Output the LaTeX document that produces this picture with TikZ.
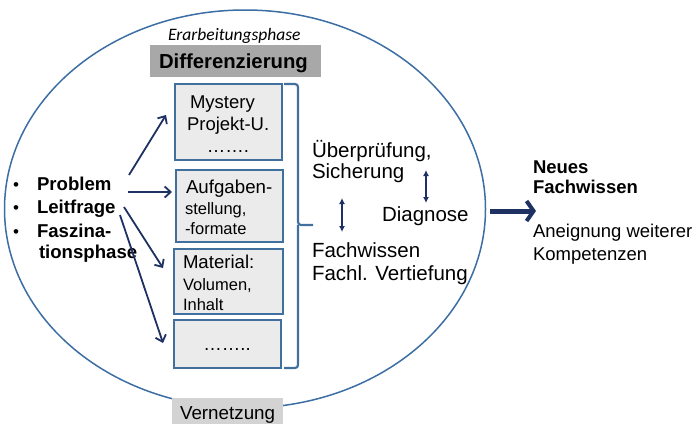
\documentclass[tikz,border=0pt]{standalone}
\usepackage{fontspec}
\setmainfont{Liberation Sans}
\newfontfamily\carlfont{Carlito}
\usetikzlibrary{arrows.meta,shapes.geometric}
\definecolor{ellblue}{HTML}{3C6EA4}
\definecolor{boxblue}{HTML}{41709F}
\definecolor{boxfill}{HTML}{EBEBEB}
\definecolor{navy}{HTML}{1F3162}
\definecolor{diffgray}{HTML}{A8A8A8}
\definecolor{vergray}{HTML}{D3D3D3}
\newcommand\fsz[1]{\fontsize{#1}{#1}\selectfont}
\begin{document}
\begin{tikzpicture}[x=1pt,y=-1pt,
  txt/.style={anchor=base west,inner sep=0pt,outer sep=0pt},
  ctxt/.style={anchor=base,inner sep=0pt,outer sep=0pt},
  stepbox/.style={draw=boxblue,line width=2pt,fill=boxfill,inner sep=0pt},
  arr/.style={navy,line width=1.8pt,-{Straight Barb[length=6pt,width=11pt,line width=1.8pt]}},
  darr/.style={navy,line width=1.5pt,{Latex[length=6pt,width=6pt]}-{Latex[length=6pt,width=6pt]}},
  bigarr/.style={navy,line width=5pt,-{Straight Barb[length=7pt,width=20pt,line width=4pt]}}]
\useasboundingbox (0,0) rectangle (695,423);
% ellipse
\node[draw=ellblue,line width=1.5pt,ellipse,minimum width=481pt,minimum height=398pt,inner sep=0pt] (ell) at (245,209) {};
% header
\node[txt] (erar) at (168,40) {\carlfont\itshape\fsz{17.5}Erarbeitungsphase};
\node[fill=diffgray,minimum width=171pt,minimum height=32pt,inner sep=0pt] (diffbox) at (235.5,61) {};
\node[txt] (diff) at (159,68) {\bfseries\fsz{20.3}Differenzierung};
% boxes
\node[stepbox,minimum width=107pt,minimum height=76pt] (b1) at (228.5,122) {};
\node[stepbox,minimum width=107pt,minimum height=72pt] (b2) at (229.5,206) {};
\node[stepbox,minimum width=109pt,minimum height=65pt] (b3) at (228.5,281.5) {};
\node[stepbox,minimum width=107pt,minimum height=48pt] (b4) at (227.5,344) {};
\node[txt] (t1a) at (190,108) {\fsz{18.5}Mystery};
\node[txt] (t1b) at (187,130) {\fsz{18.5}Projekt-U.};
\node[ctxt] (t1c) at (228,152) {\fsz{18.5}…….};
\node[txt] (t2a) at (186,193) {\fsz{18.7}Aufgaben-};
\node[txt] (t2b) at (185,214) {\fsz{16.5}stellung,};
\node[txt] (t2c) at (185,234) {\fsz{16.5}-formate};
\node[txt] (t3a) at (183,268) {\fsz{18.6}Material:};
\node[txt] (t3b) at (183,290) {\fsz{16.5}Volumen,};
\node[txt] (t3c) at (183,310) {\fsz{16.5}Inhalt};
\node[ctxt] (t4) at (227,350) {\fsz{18.5}……..};
% bracket
\coordinate (brt) at (284,84);
\coordinate (brb) at (284,368);
\coordinate (brtip) at (313,225);
\draw[boxblue,line width=2.2pt,rounded corners=3pt] (brt) -- (298,84) -- (298,225) -- (brtip);
\draw[boxblue,line width=2.2pt,rounded corners=3pt] (brb) -- (298,368) -- (298,225);
% left bullets
\node[txt] (bu1) at (13,190) {\fsz{17}•};
\node[txt] (bu2) at (13,213) {\fsz{17}•};
\node[txt] (bu3) at (13,237) {\fsz{17}•};
\node[txt] (l1) at (37,190) {\bfseries\fsz{18.6}Problem};
\node[txt] (l2) at (37,213) {\bfseries\fsz{18.6}Leitfrage};
\node[txt] (l3) at (37,237) {\bfseries\fsz{18.6}Faszina-};
\node[txt] (l4) at (39,258) {\bfseries\fsz{18.6}tionsphase};
% arrows
\coordinate (a1s) at (129,175); \coordinate (a1e) at (166,115);
\coordinate (a2s) at (128,192); \coordinate (a2e) at (172,192);
\coordinate (a3s) at (124,207); \coordinate (a3e) at (163,268);
\coordinate (a4s) at (120,215); \coordinate (a4e) at (163,343);
\draw[arr] (a1s) -- (a1e);
\draw[arr] (a2s) -- (a2e);
\draw[arr] (a3s) -- (a3e);
\draw[arr] (a4s) -- (a4e);
% right texts
\node[txt] (r1) at (312,157) {\fsz{20.5}Überprüfung,};
\node[txt] (r2) at (312,178) {\fsz{20.5}Sicherung};
\node[txt] (r3) at (382,221) {\fsz{20.5}Diagnose};
\node[txt] (r4) at (312,257) {\fsz{20.5}Fachwissen};
\node[txt] (r5) at (312,280) {\fsz{20.5}Fachl. Vertiefung};
\coordinate (d1a) at (426,170); \coordinate (d1b) at (426,203);
\coordinate (d2a) at (342,198); \coordinate (d2b) at (342,232);
\draw[darr] (d1a) -- (d1b);
\draw[darr] (d2a) -- (d2b);
% big arrow
\coordinate (bas) at (490,211);
\coordinate (bae) at (536,211);
\draw[bigarr] (bas) -- (bae);
\node[txt] (n1) at (533,173) {\bfseries\fsz{18.5}Neues};
\node[txt] (n2) at (533,193) {\bfseries\fsz{18.5}Fachwissen};
\node[txt] (n3) at (533,237) {\fsz{18.5}Aneignung weiterer};
\node[txt] (n4) at (533,260) {\fsz{18.5}Kompetenzen};
% Vernetzung
\node[fill=vergray,minimum width=111pt,minimum height=30pt,inner sep=0pt] (verbox) at (227.5,413) {};
\node[txt] (ver) at (180,419) {\fsz{18.8}Vernetzung};
\end{tikzpicture}
\end{document}
